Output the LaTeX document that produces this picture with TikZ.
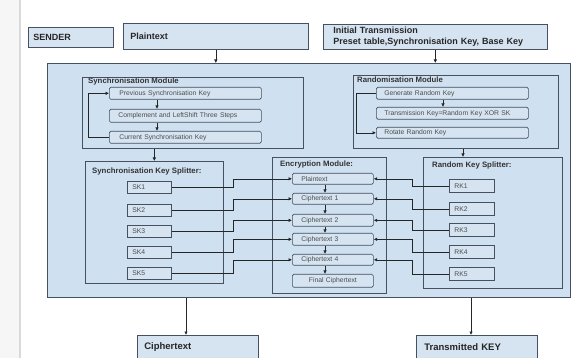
\documentclass[tikz,border=0pt]{standalone}
\usepackage{fontspec}
\setmainfont{Liberation Sans}
\usetikzlibrary{arrows.meta}
\definecolor{boxfill}{RGB}{214,228,242}
\definecolor{mainfill}{RGB}{207,224,240}
\definecolor{edge}{RGB}{70,80,95}
\newcommand\fbig{\bfseries\fontsize{9}{10.5}\selectfont}
\newcommand\fhdr{\bfseries\fontsize{7.8}{9}\selectfont}
\newcommand\fin{\fontsize{6.8}{8}\selectfont}
\begin{document}
\begin{tikzpicture}[x=1pt,y=-1pt,
  bx/.style={draw=edge, fill=boxfill, line width=0.7pt, anchor=north west, inner ysep=0pt, align=left},
  topbx/.style={bx, font=\fbig, text=black!85},
  inb/.style={bx, rounded corners=1.5pt, font=\fin, text=black!70},
  modbx/.style={draw=edge, line width=0.7pt, anchor=north west, inner sep=0pt},
  hdr/.style={anchor=north west, inner sep=0pt, font=\fhdr, text=black!80},
  arr/.style={-{Latex[length=3.5pt,width=3.5pt]}, line width=0.6pt, draw=black!85},
]
\clip (0,0) rectangle (576,358);
\fill[white] (0,0) rectangle (576,358);
\fill[gray!7] (0,0) rectangle (20,358);
\draw[gray!30, line width=1.2pt] (20,0) -- (20,358);

% top row
\node[topbx, text width=75pt, inner xsep=5pt, minimum height=20pt] (sender) at (28,27) {SENDER};
\node[topbx, text width=171pt, inner xsep=7pt, minimum height=26pt] (plain) at (123,23) {Plaintext};
\node[topbx, text width=204pt, inner xsep=10pt, minimum height=25pt] (init) at (323,24) {Initial Transmission\\Preset table,Synchronisation Key, Base Key};

% main container
\node[draw=edge, fill=mainfill, line width=0.7pt, anchor=north west, inner sep=0pt, minimum width=523pt, minimum height=234pt] (main) at (47,63) {};

\draw[arr] (plain.south) -- (main.north -| plain.south);
\draw[arr] (init.south) -- (main.north -| init.south);

% synchronisation module
\node[modbx, minimum width=221pt, minimum height=71pt] (syncmod) at (82,77) {};
\node[hdr] (syncmodlbl) at (88,78) {Synchronisation Module};
\node[inb, text width=132pt, inner xsep=10pt, minimum height=12pt] (s1) at (109,87) {Previous Synchronisation Key};
\node[inb, text width=134pt, inner xsep=9pt, minimum height=13pt] (s2) at (109,109) {Complement and LeftShift Three Steps};
\node[inb, text width=132pt, inner xsep=10pt, minimum height=12pt] (s3) at (109,131) {Current Synchronisation Key};
\draw[arr] ([xshift=48pt]s1.south west) -- ([xshift=48pt]s2.north west);
\draw[arr] ([xshift=48pt]s2.south west) -- ([xshift=48pt]s3.north west);
\draw[arr] (s3.west) -- ++(-21,0) |- (s1.west);

% randomisation module
\node[modbx, minimum width=205pt, minimum height=73pt] (randmod) at (353,75) {};
\node[hdr] (randmodlbl) at (357,77) {Randomisation Module};
\node[inb, text width=136pt, inner xsep=8pt, minimum height=12pt] (r1) at (376,87) {Generate Random Key};
\node[inb, text width=136pt, inner xsep=8pt, minimum height=12pt] (r2) at (376,107) {Transmission Key=Random Key XOR SK};
\node[inb, text width=136pt, inner xsep=8pt, minimum height=11pt] (r3) at (376,127) {Rotate Random Key};
\draw[arr] ([xshift=67pt]r1.south west) -- ([xshift=67pt]r2.north west);
\draw[arr] (r1.west) -- ++(-20,0) |- (r3.west);

% synchronisation key splitter
\node[modbx, minimum width=138pt, minimum height=122pt] (syncsplit) at (85,161) {};
\node[hdr] (syncsplitlbl) at (92,168) {Synchronisation Key Splitter:};
\draw[arr] (syncmod.south -| syncsplit.north) -- (syncsplit.north);
\foreach \i/\t in {1/181,2/204,3/225,4/246,5/267}{
  \node[inb, rounded corners=0pt, text width=34pt, inner xsep=5pt, minimum height=12pt] (sk\i) at (127,\t) {SK\i};
}

% random key splitter
\node[modbx, minimum width=139pt, minimum height=131pt] (randsplit) at (423,157) {};
\node[hdr] (randsplitlbl) at (432,162) {Random Key Splitter:};
\draw[arr] ([xshift=110pt]randmod.south west) -- ([xshift=40pt]randsplit.north west);
\foreach \i/\t in {1/179,2/202,3/223,4/245,5/267}{
  \node[inb, rounded corners=0pt, text width=35pt, inner xsep=5pt, minimum height=13pt] (rk\i) at (449,\t) {RK\i};
}

% encryption module
\node[modbx, minimum width=114pt, minimum height=136pt] (encmod) at (272,157) {};
\node[hdr] (encmodlbl) at (280,161) {Encryption Module:};
\node[inb, text width=63pt, inner xsep=9pt, minimum height=11pt] (e1) at (292,173) {Plaintext};
\node[inb, text width=63pt, inner xsep=9pt, minimum height=11pt] (e2) at (292,193) {Ciphertext 1};
\node[inb, text width=63pt, inner xsep=9pt, minimum height=12pt] (e3) at (292,214) {Ciphertext 2};
\node[inb, text width=63pt, inner xsep=9pt, minimum height=12pt] (e4) at (292,233) {Ciphertext 3};
\node[inb, text width=63pt, inner xsep=9pt, minimum height=11pt] (e5) at (292,254) {Ciphertext 4};
\node[inb, text width=71pt, inner xsep=5pt, minimum height=13pt, align=center] (e6) at (292,274) {Final Ciphertext};
\foreach \a/\b in {e1/e2,e2/e3,e3/e4,e4/e5,e5/e6}{
  \draw[arr] ([xshift=33pt]\a.south west) -- ([xshift=33pt]\b.north west);
}

% key lines into the encryption module
\foreach \i in {1,...,5}{
  \draw[arr] (sk\i.east) -- ++(62,0) |- (e\i.west);
  \draw[arr] (rk\i.west) -- ++(-37,0) |- (e\i.east);
}

% outputs
\node[topbx, font=\bfseries\fontsize{9.5}{11}\selectfont, text width=107pt, inner xsep=7pt, minimum height=24pt] (cipher) at (137,335) {Ciphertext};
\node[topbx, font=\bfseries\fontsize{9.5}{11}\selectfont, text width=105pt, inner xsep=8pt, minimum height=24pt] (trans) at (416,335) {Transmitted KEY};
\draw[arr] ([xshift=139pt]main.south west) -- ([xshift=49pt]cipher.north west);
\draw[arr] ([xshift=424pt]main.south west) -- ([xshift=55pt]trans.north west);
\end{tikzpicture}
\end{document}
